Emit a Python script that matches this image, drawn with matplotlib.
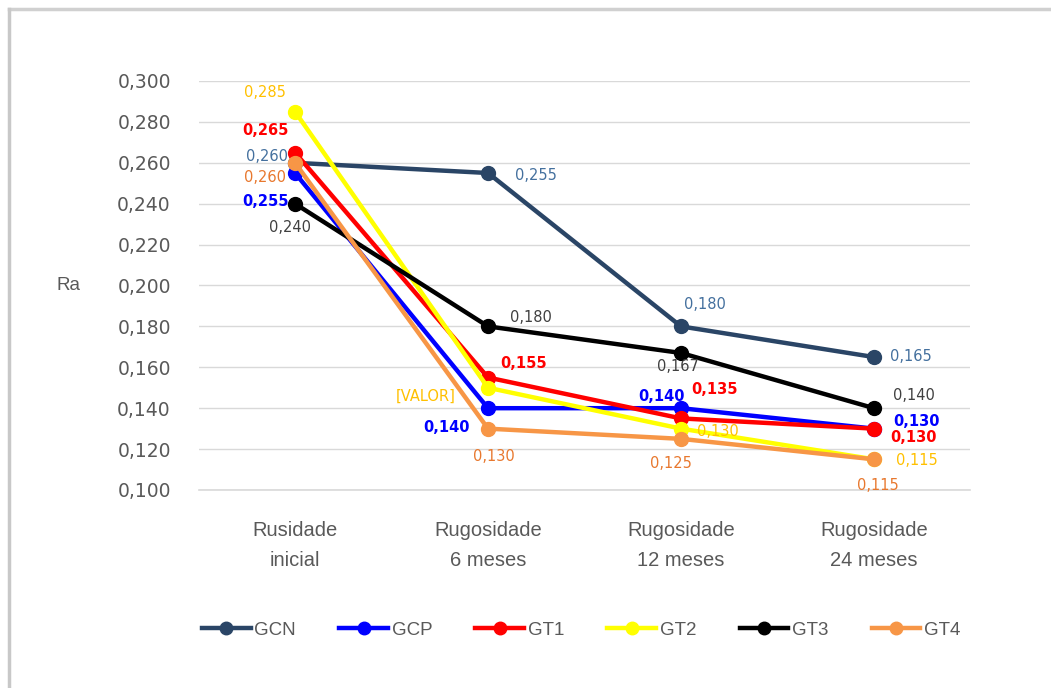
import matplotlib.pyplot as plt
from matplotlib.lines import Line2D

plt.rcParams['font.family'] = ['Liberation Sans', 'DejaVu Sans']

categories = ["Rusidade\ninicial", "Rugosidade\n6 meses", "Rugosidade\n12 meses", "Rugosidade\n24 meses"]
groups = ["GCN", "GCP", "GT1", "GT2", "GT3", "GT4"]

gcn = [0.260, 0.255, 0.180, 0.165]
gcp = [0.255, 0.140, 0.140, 0.130]
gt1 = [0.265, 0.155, 0.135, 0.130]
gt2 = [0.285, 0.150, 0.130, 0.115]
gt3 = [0.240, 0.180, 0.167, 0.140]
gt4 = [0.260, 0.130, 0.125, 0.115]
series = [gcn, gcp, gt1, gt2, gt3, gt4]

line_colors = ["#2A4566", "#0000FF", "#FF0000", "#FFFF00", "#000000", "#F79646"]
label_colors = ["#44709E", "#0000FF", "#FF0000", "#FFC000", "#404040", "#E8782E"]
label_bold = [False, True, True, False, False, False]

# pixel offsets (dx, dy) of each value label from its point
offsets = [
    [(-28, 6), (48, -2), (24, 22), (37, 1)],
    [(-30, -28), (-42, -19), (-20, 12), (43, 7)],
    [(-30, 22), (36, 14), (33, 29), (40, -9)],
    [(-30, 19), (-62, -9), (37, -3), (43, -1)],
    [(-5, -24), (43, 9), (-3, -14), (40, 13)],
    [(-30, -15), (6, -28), (-10, -25), (4, -26)],
]
# label text overrides (GT2 at 6 meses shows a placeholder)
overrides = {(3, 1): "[VALOR]"}

fig = plt.figure(figsize=(10.51, 6.88), dpi=100)
ax = fig.add_axes([0.1889, 0.2878, 0.7345, 0.5945])

x = [0.5, 1.5, 2.5, 3.5]
for i, (name, vals) in enumerate(zip(groups, series)):
    ax.plot(x, vals, color=line_colors[i], lw=3.2, marker="o", ms=10,
            label=name, zorder=3 + i, solid_capstyle="round")
    for j, v in enumerate(vals):
        txt = overrides.get((i, j), f"{v:.3f}".replace(".", ","))
        dx, dy = offsets[i][j]
        ax.annotate(txt, (x[j], v), xytext=(dx * 0.72, dy * 0.72),
                    textcoords="offset points", ha="center", va="center",
                    fontsize=10.5, color=label_colors[i],
                    fontweight="bold" if label_bold[i] else "normal",
                    family="DejaVu Sans", zorder=20)

ax.set_xlim(0, 4)
ax.set_ylim(0.100, 0.300)
ax.set_yticks([0.100 + 0.02 * k for k in range(11)])
ax.yaxis.set_major_formatter(lambda v, p: f"{v:.3f}".replace(".", ","))
ax.set_xticks(x)
ax.set_xticklabels(categories, fontsize=14.5, color="#595959", linespacing=1.75)
ax.tick_params(axis="y", length=0, pad=20, labelsize=13.5, labelcolor="#595959")
ax.tick_params(axis="x", length=0, pad=22)
for lbl in ax.get_yticklabels():
    lbl.set_family("DejaVu Sans")
ax.grid(axis="y", color="#D9D9D9", lw=1)
ax.axhline(0.100, color="#D9D9D9", lw=1.2, clip_on=False, zorder=0.5)
ax.set_axisbelow(True)
for s in ax.spines.values():
    s.set_visible(False)

fig.text(68 / 1051, 1 - 285 / 688, "Ra", fontsize=13.5, color="#595959",
         ha="center", va="center")

handles = [Line2D([], [], color=c, lw=3.2, marker="o", ms=9) for c in line_colors]
fig.legend(handles, groups, loc="center", bbox_to_anchor=(0.553, 1 - 630 / 688),
           ncol=6, frameon=False, fontsize=13.5, labelcolor="#595959",
           handlelength=2.6, handletextpad=0.2, columnspacing=2.3)

# outer frame lines along the top and left edges
fig.add_artist(Line2D([0.009, 1.0], [1 - 9 / 688, 1 - 9 / 688], color="#D0D0D0", lw=2.5,
                      transform=fig.transFigure))
fig.add_artist(Line2D([0.009, 0.009], [0.0, 1 - 9 / 688], color="#C8C8C8", lw=2.5,
                      transform=fig.transFigure))

fig.savefig("out.png", dpi=100)
